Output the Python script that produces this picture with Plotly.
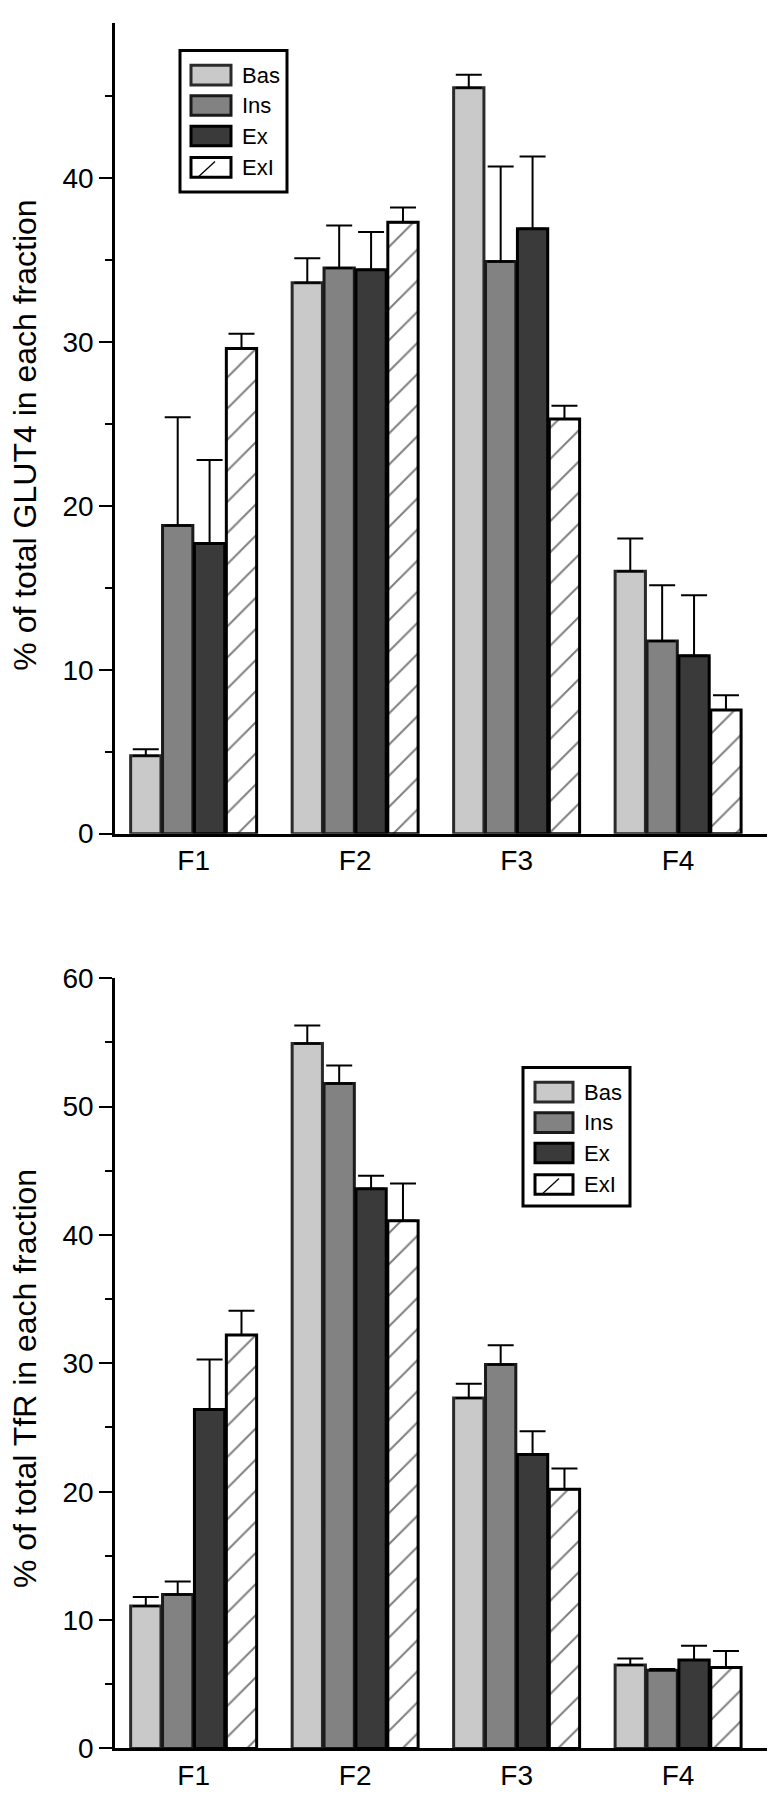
import plotly.graph_objects as go
from plotly.subplots import make_subplots

categories = ["F1", "F2", "F3", "F4"]
series_names = ["Bas", "Ins", "Ex", "ExI"]

glut4_bas = [4.75, 33.6, 45.5, 16.0]
glut4_ins = [18.8, 34.5, 34.9, 11.75]
glut4_ex = [17.7, 34.4, 36.9, 10.85]
glut4_exi = [29.6, 37.3, 25.3, 7.55]
glut4_bas_err = [0.4, 1.5, 0.8, 2.0]
glut4_ins_err = [6.6, 2.6, 5.8, 3.4]
glut4_ex_err = [5.1, 2.3, 4.4, 3.7]
glut4_exi_err = [0.9, 0.9, 0.8, 0.9]

tfr_bas = [11.1, 54.9, 27.3, 6.5]
tfr_ins = [12.0, 51.8, 29.9, 6.1]
tfr_ex = [26.4, 43.6, 22.9, 6.9]
tfr_exi = [32.2, 41.1, 20.2, 6.3]
tfr_bas_err = [0.7, 1.4, 1.1, 0.5]
tfr_ins_err = [1.0, 1.4, 1.5, 0.1]
tfr_ex_err = [3.9, 1.0, 1.8, 1.1]
tfr_exi_err = [1.9, 2.9, 1.6, 1.3]

y_titles = ["% of total GLUT4 in each fraction", "% of total TfR in each fraction"]

# page body has an 8px margin; figure coordinates are page coordinates minus OFF
OFF = 8
W, H = 775 - OFF, 1800 - 2 * OFF
AXIS_X = 115
ML = AXIS_X - OFF
PW = W - ML

FONT = "Liberation Sans, Arial, sans-serif"
TICKFONT = "Liberation Sans Narrow, Arial Narrow, Liberation Sans, Arial, sans-serif"

fills = {"Bas": "#c9c9c9", "Ins": "#828282", "Ex": "#3a3a3a", "ExI": "white"}
outlines = {"Bas": "#2a2a2a", "Ins": "#1a1a1a", "Ex": "#000000", "ExI": "#000000"}

fig = make_subplots(rows=2, cols=1)

top = [(glut4_bas, glut4_bas_err), (glut4_ins, glut4_ins_err),
       (glut4_ex, glut4_ex_err), (glut4_exi, glut4_exi_err)]
bot = [(tfr_bas, tfr_bas_err), (tfr_ins, tfr_ins_err),
       (tfr_ex, tfr_ex_err), (tfr_exi, tfr_exi_err)]

for row, data in ((1, top), (2, bot)):
    for name, (vals, errs) in zip(series_names, data):
        marker = dict(color=fills[name], line=dict(color=outlines[name], width=3))
        if name == "ExI":
            marker["pattern"] = dict(shape="/", fgcolor="black", bgcolor="white",
                                     size=22, solidity=0.09)
        fig.add_trace(go.Bar(
            x=categories, y=vals, name=name, marker=marker,
            error_y=dict(type="data", array=errs, arrayminus=[0] * len(errs),
                         symmetric=False, color="black", thickness=2, width=13),
            showlegend=False,
        ), row=row, col=1)


def py(y):
    # page y (px) -> paper fraction
    return min(1.0, max(0.0, 1 - (y - OFF) / H))


def px(x):
    # page x (px) -> paper fraction
    return (x - AXIS_X) / PW


xcommon = dict(range=[-0.487, 3.6], showline=True, linecolor="black", linewidth=2.5,
               ticks="", showgrid=False, zeroline=False,
               tickfont=dict(family=TICKFONT, size=28, color="black"))
fig.update_xaxes(domain=[0, 1], **xcommon)

ycommon = dict(showline=True, linecolor="black", linewidth=2.5, ticks="outside",
               ticklen=13, tickwidth=2, tickcolor="black", showgrid=False,
               zeroline=False, dtick=10,
               minor=dict(dtick=5, ticks="outside", ticklen=7, tickwidth=2,
                          tickcolor="black", showgrid=False),
               tickfont=dict(family=TICKFONT, size=28, color="black"))
fig.update_yaxes(**ycommon)
fig.update_yaxes(domain=[py(833), py(8)], range=[0, 49.45],
                 tickvals=[0, 10, 20, 30, 40], row=1, col=1)
fig.update_yaxes(domain=[py(1764), py(980)], range=[0, 60], row=2, col=1)

shapes = []
annotations = []

# y-axis titles (rotated text)
for title, cy in zip(y_titles, [428, 1388]):
    annotations.append(dict(xref="paper", yref="paper", x=px(25), y=py(cy),
                            text=title, textangle=-90, showarrow=False,
                            xanchor="center", yanchor="middle",
                            font=dict(family=FONT, size=32, color="black")))


def legend(x0, y0, x1, y1, sx0, sx1, tx, centers):
    shapes.append(dict(type="rect", xref="paper", yref="paper",
                       x0=px(x0), x1=px(x1), y0=py(y0), y1=py(y1),
                       line=dict(color="black", width=3), fillcolor="white"))
    for name, cy in zip(series_names, centers):
        shapes.append(dict(type="rect", xref="paper", yref="paper",
                           x0=px(sx0), x1=px(sx1), y0=py(cy - 10), y1=py(cy + 10),
                           line=dict(color=outlines[name], width=3),
                           fillcolor=fills[name]))
        if name == "ExI":
            shapes.append(dict(type="line", xref="paper", yref="paper",
                               x0=px(sx0 + 8), y0=py(cy + 9), x1=px(sx0 + 24), y1=py(cy - 6),
                               line=dict(color="black", width=1.3)))
        annotations.append(dict(xref="paper", yref="paper", x=px(tx), y=py(cy),
                                text=name, showarrow=False, xanchor="left",
                                yanchor="middle",
                                font=dict(family=FONT, size=22, color="black")))


legend(180, 36, 287, 180, 191, 231, 240, [61, 92, 123, 155])
legend(523, 1071, 630, 1212, 535, 573, 582, [1096, 1127, 1158, 1190])

fig.update_layout(
    width=W, height=H, margin=dict(l=ML, r=0, t=0, b=0),
    paper_bgcolor="white", plot_bgcolor="white",
    barmode="group", bargap=0.21, bargroupgap=0.05,
    shapes=shapes, annotations=annotations,
    font=dict(family=FONT, color="black"),
)

fig.write_html("out.html")
